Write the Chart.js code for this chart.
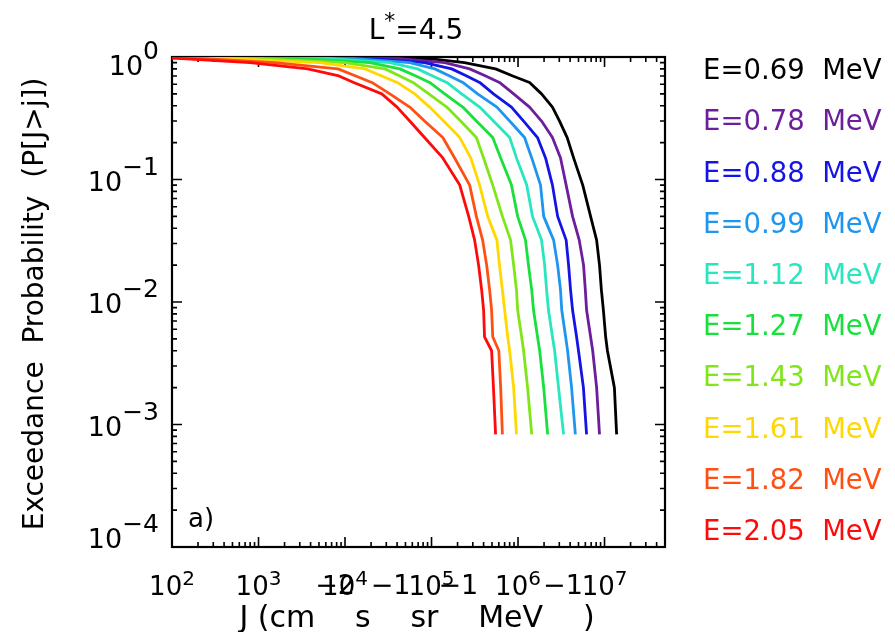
<!DOCTYPE html>
<html>
<head>
<meta charset="utf-8">
<script src="https://cdn.jsdelivr.net/npm/chart.js@4.4.0/dist/chart.umd.min.js"></script>
<style>
  html, body { margin: 0; padding: 0; background: #fff; }
</style>
</head>
<body>
<canvas id="exceedChart" width="895" height="632"></canvas>
<script>
// exceedance probability levels shared by all curves
const probLevels = [0.97, 0.9, 0.8, 0.7, 0.62, 0.5, 0.39, 0.3, 0.22, 0.15, 0.09, 0.05, 0.032, 0.02,
  0.0125, 0.0086, 0.0052, 0.0040, 0.002, 0.00083];

const energies = ['0.69', '0.78', '0.88', '0.99', '1.12', '1.27', '1.43', '1.61', '1.82', '2.05'];
const colors = ['#000000', '#6c1e9c', '#1414e6', '#1e96f0', '#28e6be', '#19e03c', '#80e619', '#ffd800', '#ff5014', '#ff0a0a'];

// probability at the left edge, J = 1e2
const startProb = [1.0, 1.0, 1.0, 1.0, 0.998, 0.997, 0.995, 0.99, 0.985, 0.978];

// flux J (cm-2 s-1 sr-1 MeV-1) at each probability level
const jE069 = [9.5e4, 2.4e5, 5.5e5, 8.7e5, 1.36e6, 1.87e6, 2.5e6, 3.02e6, 3.7e6, 4.39e6, 5.6e6, 6.9e6, 8.1e6, 8.75e6, 9.2e6, 9.7e6, 1.03e7, 1.08e7, 1.3e7, 1.38e7];
const jE078 = [4.3e4, 1.42e5, 2.76e5, 4.23e5, 6.1e5, 8.9e5, 1.36e6, 1.87e6, 2.5e6, 3.1e6, 3.6e6, 4.27e6, 5.1e6, 5.72e6, 6.0e6, 6.2e6, 6.9e6, 7.3e6, 8.1e6, 8.75e6];
const jE088 = [2.2e4, 8.3e4, 1.71e5, 2.55e5, 3.6e5, 5.2e5, 8.4e5, 1.16e6, 1.68e6, 2.08e6, 2.5e6, 2.87e6, 3.6e6, 3.84e6, 4.05e6, 4.27e6, 4.75e6, 5.0e6, 5.7e6, 6.2e6];
const jE099 = [1.3e4, 5.6e4, 1.09e5, 1.62e5, 2.3e5, 3.41e5, 5.7e5, 8.0e5, 1.19e6, 1.44e6, 1.82e6, 1.98e6, 2.58e6, 2.87e6, 3.1e6, 3.2e6, 3.55e6, 3.74e6, 4.16e6, 4.6e6];
const jE112 = [6.7e3, 3.3e4, 6.9e4, 1.03e5, 1.5e5, 2.23e5, 3.6e5, 5.2e5, 8.0e5, 9.6e5, 1.26e6, 1.47e6, 1.87e6, 2.03e6, 2.14e6, 2.25e6, 2.5e6, 2.65e6, 2.94e6, 3.36e6];
const jE127 = [3.0e3, 1.93e4, 4.3e4, 6.6e4, 9.5e4, 1.42e5, 2.3e5, 3.3e5, 5.1e5, 6.3e5, 8.4e5, 9.9e5, 1.22e6, 1.32e6, 1.44e6, 1.51e6, 1.68e6, 1.78e6, 1.98e6, 2.2e6];
const jE143 = [1.04e3, 1.0e4, 2.9e4, 4.3e4, 6.1e4, 9.3e4, 1.5e5, 2.17e5, 3.3e5, 4.0e5, 5.1e5, 6.6e5, 8.2e5, 8.9e5, 9.6e5, 9.9e5, 1.10e6, 1.16e6, 1.29e6, 1.44e6];
const jE161 = [470, 5.1e3, 1.7e4, 2.66e4, 4.0e4, 6.4e4, 9.5e4, 1.38e5, 2.12e5, 2.84e5, 3.6e5, 4.46e5, 5.7e5, 6.1e5, 6.6e5, 7.0e5, 7.6e5, 8.0e5, 8.9e5, 9.6e5];
const jE182 = [240, 1.55e3, 8.3e3, 1.33e4, 2.04e4, 3.3e4, 5.6e4, 8.3e4, 1.35e5, 1.85e5, 2.76e5, 3.3e5, 3.9e5, 4.34e5, 4.7e5, 4.95e5, 5.1e5, 6.0e5, 6.3e5, 6.6e5];
const jE205 = [130, 800, 3.7e3, 8.5e3, 1.26e4, 2.66e4, 4.0e4, 5.6e4, 8.3e4, 1.35e5, 2.12e5, 2.69e5, 3.15e5, 3.5e5, 3.8e5, 4.0e5, 4.1e5, 4.95e5, 5.2e5, 5.5e5];

const fluxSeries = [jE069, jE078, jE088, jE099, jE112, jE127, jE143, jE161, jE182, jE205];

const xTickExps = [2, 3, 4, 5, 6, 7];
const yTickExps = [0, -1, -2, -3, -4];

const FONT = '"DejaVu Sans", sans-serif';

const datasets = fluxSeries.map((js, i) => ({
  label: 'E=' + energies[i] + ' MeV',
  data: [{ x: 100, y: startProb[i] }].concat(js.map((j, k) => ({ x: j, y: probLevels[k] }))),
  borderColor: colors[i],
  backgroundColor: colors[i],
  borderWidth: 2.8,
  borderJoinStyle: 'round',
  pointRadius: 0,
  tension: 0,
  fill: false,
  order: fluxSeries.length - 1 - i
}));

function supText(exp) {
  return exp < 0 ? '\u2212' + Math.abs(exp) : String(exp);
}

// draw runs of [text, isSuperscript]; returns total width
function drawRuns(ctx, runs, x, y, size, supSize, rise, align) {
  const widths = runs.map(([t, s]) => {
    ctx.font = (s ? supSize : size) + 'px ' + FONT;
    return ctx.measureText(t).width;
  });
  const total = widths.reduce((a, b) => a + b, 0);
  let left = x;
  if (align === 'center') left = x - total / 2;
  if (align === 'right') left = x - total;
  ctx.textAlign = 'left';
  ctx.textBaseline = 'alphabetic';
  runs.forEach(([t, s], i) => {
    ctx.font = (s ? supSize : size) + 'px ' + FONT;
    ctx.fillText(t, left, s ? y - rise : y);
    left += widths[i];
  });
  return total;
}

const frameAndTicks = {
  id: 'frameAndTicks',
  beforeDatasetsDraw(chart) {
    const { ctx, chartArea: a, scales: { x, y } } = chart;
    ctx.save();
    ctx.strokeStyle = '#000';
    ctx.lineWidth = 1.6;
    ctx.beginPath();
    for (let e = 2; e <= 7; e++) {
      for (let k = 1; k <= 9; k++) {
        const v = k * Math.pow(10, e);
        if (v < x.min || v > x.max) continue;
        const px = x.getPixelForValue(v);
        const len = k === 1 ? 10 : 5;
        ctx.moveTo(px, a.bottom); ctx.lineTo(px, a.bottom - len);
        ctx.moveTo(px, a.top); ctx.lineTo(px, a.top + len);
      }
    }
    for (let e = -4; e <= 0; e++) {
      for (let k = 1; k <= 9; k++) {
        const v = k * Math.pow(10, e);
        if (v < y.min || v > y.max) continue;
        const py = y.getPixelForValue(v);
        const len = k === 1 ? 10 : 5;
        ctx.moveTo(a.left, py); ctx.lineTo(a.left + len, py);
        ctx.moveTo(a.right, py); ctx.lineTo(a.right - len, py);
      }
    }
    ctx.stroke();
    ctx.lineWidth = 2.2;
    ctx.strokeRect(a.left, a.top, a.right - a.left, a.bottom - a.top);
    ctx.restore();
  },
  afterDraw(chart) {
    const { ctx, chartArea: a, scales: { x, y } } = chart;
    ctx.save();
    ctx.fillStyle = '#000';

    // x tick labels
    xTickExps.forEach(e => {
      const px = x.getPixelForValue(Math.pow(10, e));
      drawRuns(ctx, [['10', false], [supText(e), true]], px, 595, 26, 20, 10, 'center');
    });
    // y tick labels
    yTickExps.forEach(e => {
      const py = y.getPixelForValue(Math.pow(10, e));
      const base = Math.min(Math.max(py + 11, a.top + 18), a.bottom + 1);
      drawRuns(ctx, [['10', false], [supText(e), true]], 159, base, 27, 25, 16, 'right');
    });

    // axis titles
    drawRuns(ctx, [['J (cm', false], ['\u22122', true], ['s', false], ['\u22121', true], ['sr', false],
      ['\u22121', true], ['MeV', false], ['\u22121', true], [')', false]], 417, 627, 30, 27, 33, 'center');

    ctx.save();
    ctx.translate(43, (a.top + a.bottom) / 2 + 2);
    ctx.rotate(-Math.PI / 2);
    ctx.font = '28px ' + FONT;
    ctx.textAlign = 'center';
    ctx.textBaseline = 'alphabetic';
    ctx.fillText('Exceedance  Probability  (P[J>j])', 0, 0);
    ctx.restore();

    // title
    drawRuns(ctx, [['L', false], ['*', true], ['=4.5', false]], 416, 39, 28, 22, 11, 'center');

    // panel tag
    ctx.font = '26px ' + FONT;
    ctx.textAlign = 'left';
    ctx.fillText('a)', 188, 527);

    // energy legend
    ctx.font = '27.5px ' + FONT;
    ctx.textBaseline = 'middle';
    energies.forEach((en, i) => {
      ctx.fillStyle = colors[i];
      ctx.fillText('E=' + en + '  MeV', 703, 72 + i * 51.2);
    });
    ctx.restore();
  }
};

new Chart(document.getElementById('exceedChart'), {
  type: 'line',
  data: { datasets },
  options: {
    responsive: false,
    animation: false,
    devicePixelRatio: 1,
    layout: { padding: { left: 172, right: 230, top: 57, bottom: 85 } },
    plugins: {
      legend: { display: false },
      tooltip: { enabled: false },
      title: { display: false }
    },
    scales: {
      x: { type: 'logarithmic', min: 100, max: 5e7, display: false },
      y: { type: 'logarithmic', min: 1e-4, max: 1, display: false }
    }
  },
  plugins: [frameAndTicks]
});
</script>
</body>
</html>
